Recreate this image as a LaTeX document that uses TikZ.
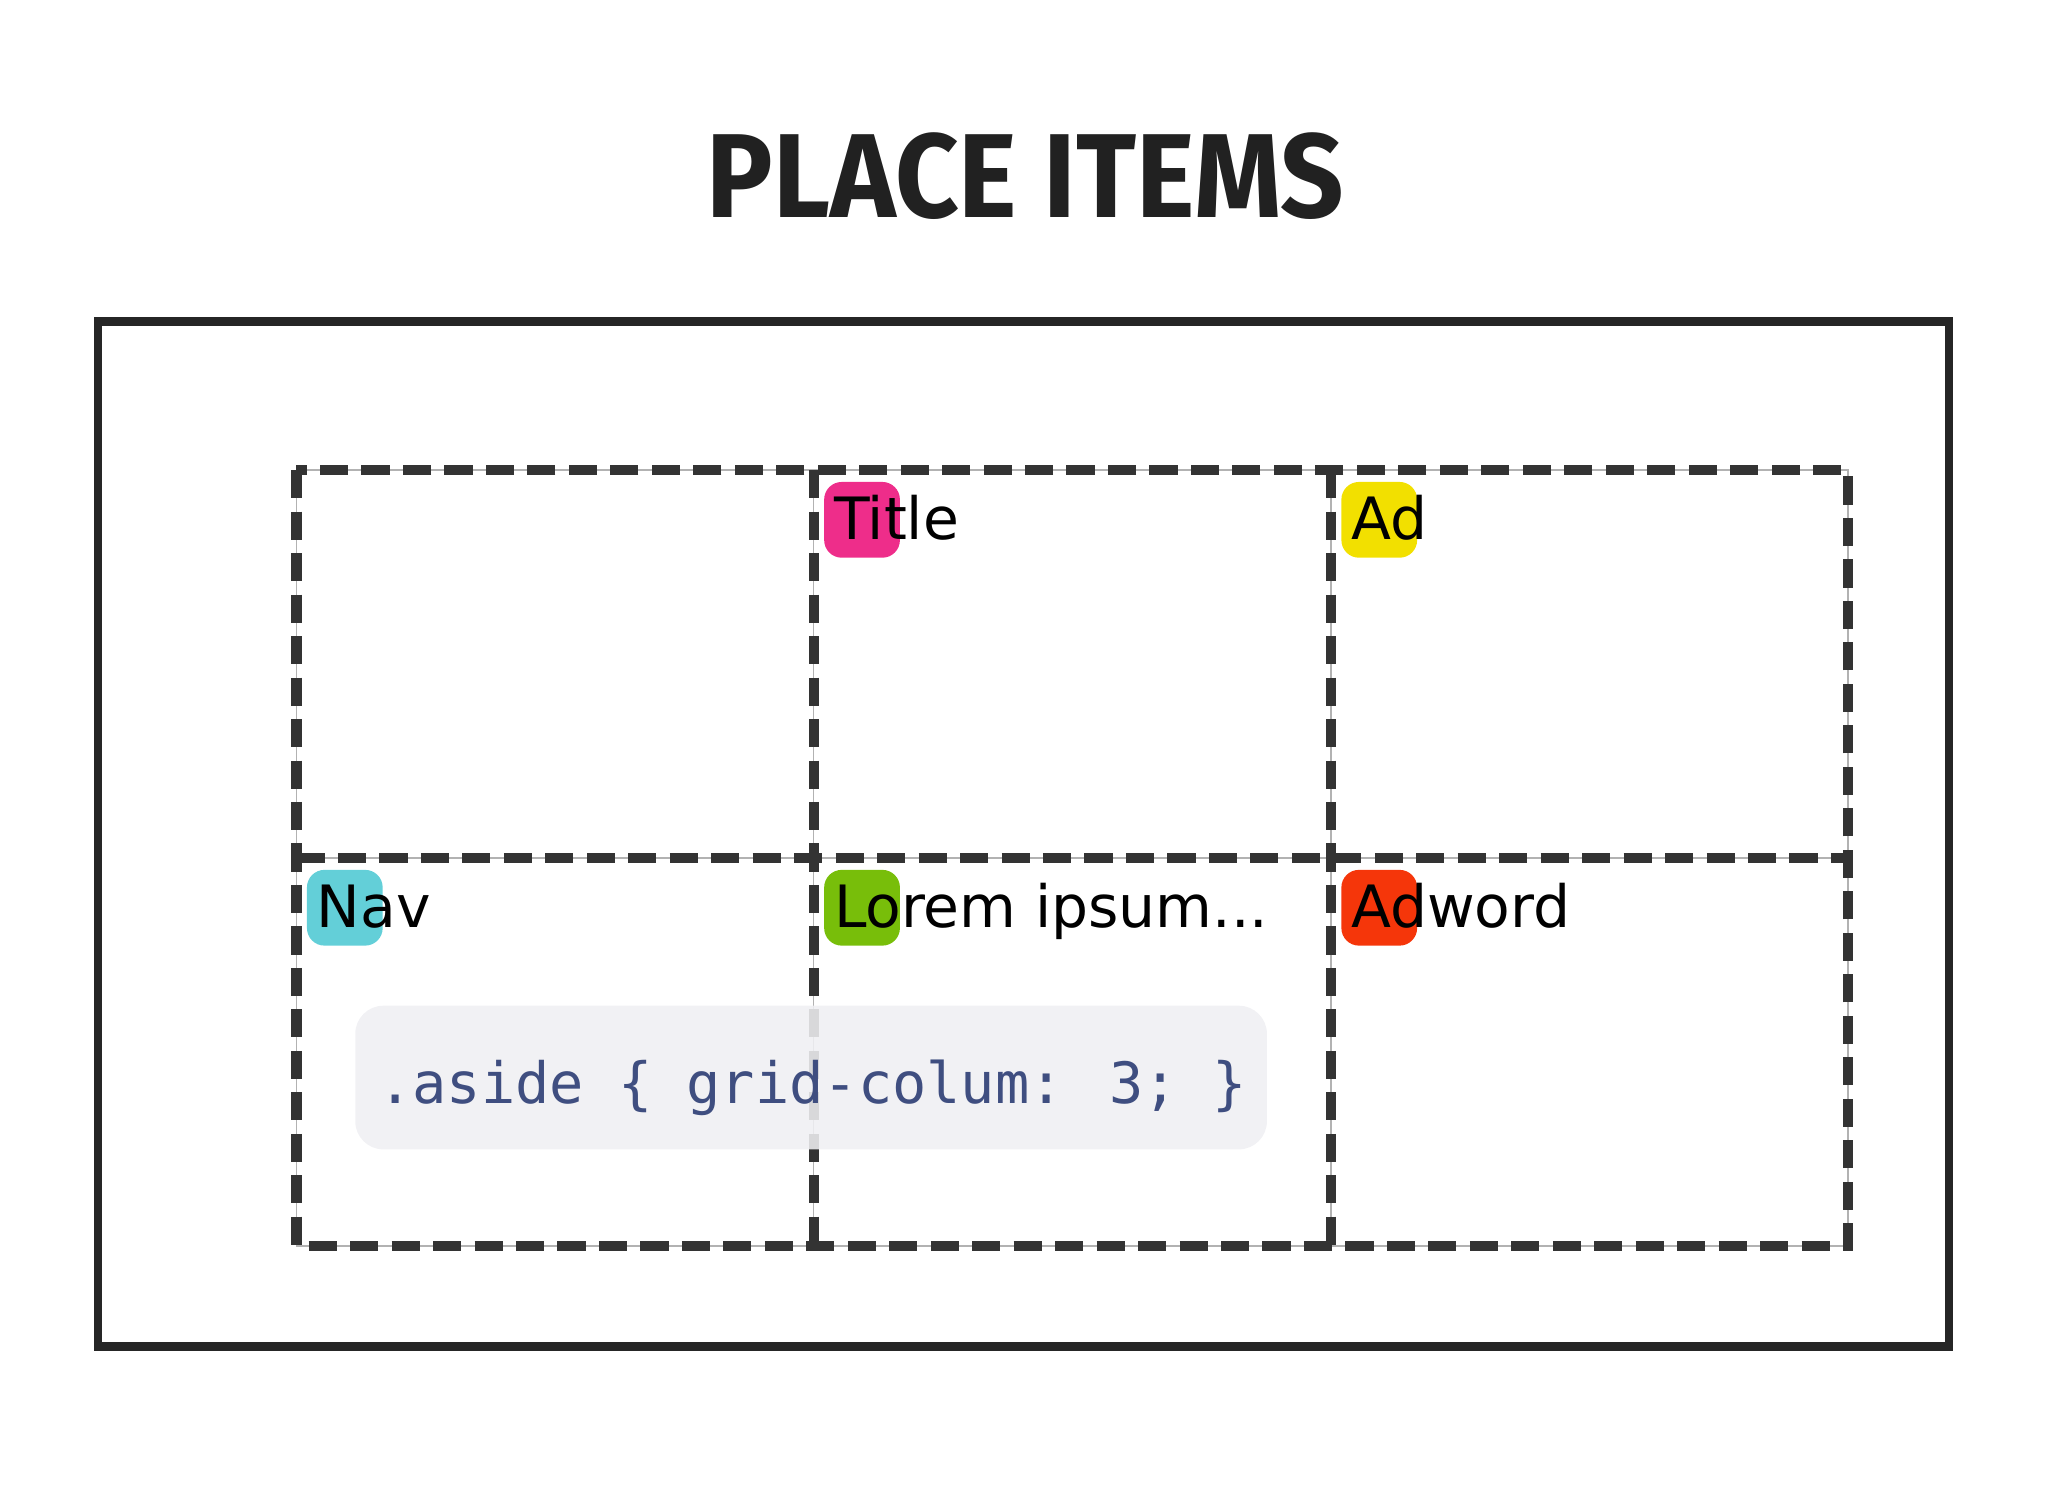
\documentclass[tikz,border=0pt]{standalone}
\usepackage{fontspec}
\setmainfont{DejaVu Sans}
\newfontfamily\titlefont{Fira Sans}
\newfontfamily\codefont{DejaVu Sans Mono}
\definecolor{ink}{HTML}{333333}
\definecolor{cpink}{HTML}{EE2D8A}
\definecolor{cyel}{HTML}{F2E000}
\definecolor{ccyan}{HTML}{63CFD8}
\definecolor{cgreen}{HTML}{78BE0A}
\definecolor{cred}{HTML}{F5360A}
\definecolor{codebg}{HTML}{EFEFF2}
\definecolor{codefg}{HTML}{3F4E80}
\tikzset{
  gridline/.style={ink,line width=2.9pt,dash pattern=on 8pt off 3.8pt},
  thinline/.style={gray!60,line width=0.4pt},
  tag/.style={rounded corners=5pt},
  lbl/.style={anchor=base west,inner sep=0pt,font=\fontsize{16.6}{20}\selectfont}
}
\begin{document}
\begin{tikzpicture}[x=0.013062cm,y=-0.013062cm]
\useasboundingbox (0,0) rectangle (1568,1142);
\node[font=\titlefont\bfseries\fontsize{34}{40}\selectfont,text=black!87,xscale=0.93] (title) at (785,135) {PLACE ITEMS};
\draw[black!85,line width=2.4pt] (75,246) rectangle (1492,1031);
% thin underlay
\draw[thinline] (227,360) rectangle (1415,954);
\foreach \x in {623,1019} \draw[thinline] (\x,360) -- (\x,954);
\draw[thinline] (227,657) -- (1415,657);
% tags
\fill[tag,cpink] (631,369) rectangle (689,427);
\fill[tag,cyel] (1027,369) rectangle (1085,427);
\fill[tag,ccyan] (235,666) rectangle (293,724);
\fill[tag,cgreen] (631,666) rectangle (689,724);
\fill[tag,cred] (1027,666) rectangle (1085,724);
\node[lbl] (t1) at (638,413) {Title};
\node[lbl] (t2) at (1034,413) {Ad};
\node[lbl] (t3) at (242,710) {Nav};
\node[lbl] (t4) at (638,710) {Lorem ipsum...};
\node[lbl] (t5) at (1034,710) {Adword};
% dashed grid
\draw[gridline] (227,360) rectangle (1415,954);
\foreach \x in {623,1019} \draw[gridline] (\x,360) -- (\x,954);
\draw[gridline] (227,657) -- (1415,657);
% code box
\fill[codebg,opacity=0.88,rounded corners=8pt] (272,770) rectangle (970,880);
\node[anchor=base west,inner sep=0pt,text=codefg,font=\codefont\fontsize{16.2}{20}\selectfont] (code) at (289,845) {.aside \{ grid-colum: 3; \}};
\end{tikzpicture}
\end{document}
